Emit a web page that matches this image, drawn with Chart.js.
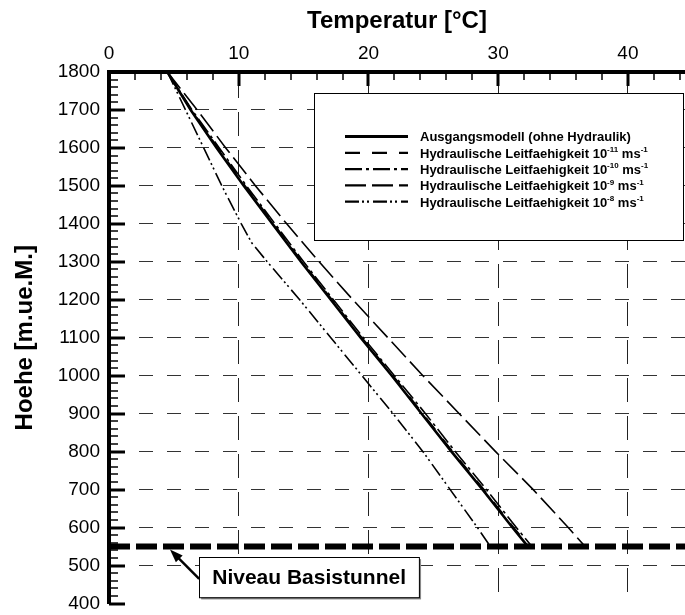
<!DOCTYPE html>
<html>
<head>
<meta charset="utf-8">
<script src="https://cdn.jsdelivr.net/npm/chart.js@4.4.1/dist/chart.umd.min.js"></script>
<style>
	html, body { margin: 0; padding: 0; background: #fff; }
	canvas { display: block; }
</style>
</head>
<body>
<canvas id="chart" width="685" height="615"></canvas>
<script>
( function () {
	'use strict';

	var FONT = "'Liberation Sans', Arial, Helvetica, sans-serif";

	// ── Data ─────────────────────────────────────────────────────────────

	// Hoehe [m.ue.M.] sampled along the profiles
	var HEIGHTS = [ 1800, 1700, 1600, 1500, 1400, 1300, 1200, 1100, 1000, 900, 800, 700, 600, 550 ];
	// Temperatur [°C] for each profile
	var T_BASE = [ 4.5, 6.3, 8.3, 10.4, 12.6, 14.8, 17.1, 19.4, 21.8, 24.1, 26.4, 28.8, 31.1, 32.3 ];
	var T_K11  = [ 4.5, 6.35, 8.4, 10.5, 12.7, 14.9, 17.2, 19.5, 21.9, 24.2, 26.5, 28.9, 31.2, 32.4 ];
	var T_K10  = [ 4.5, 6.4, 8.5, 10.6, 12.8, 15.0, 17.3, 19.6, 22.0, 24.4, 26.7, 29.1, 31.4, 32.6 ];
	var T_K9   = [ 4.5, 6.8, 9.0, 11.3, 13.7, 16.2, 18.8, 21.5, 24.2, 27.0, 29.8, 32.7, 35.4, 36.7 ];
	// the 10^-8 profile bends near 1350 m, so it gets its own heights
	var HEIGHTS_K8 = [ 1800, 1700, 1600, 1500, 1400, 1350, 1300, 1200, 1100, 1000, 900, 800, 700, 600, 550 ];
	var T_K8       = [ 4.5, 5.9, 7.3, 8.7, 10.2, 11.0, 12.2, 14.7, 17.1, 19.5, 21.9, 24.2, 26.3, 28.4, 29.4 ];

	var SERIES_LABELS = [
		'Ausgangsmodell (ohne Hydraulik)',
		'Hydraulische Leitfaehigkeit 10^{-11} ms^{-1}',
		'Hydraulische Leitfaehigkeit 10^{-10} ms^{-1}',
		'Hydraulische Leitfaehigkeit 10^{-9} ms^{-1}',
		'Hydraulische Leitfaehigkeit 10^{-8} ms^{-1}',
	];

	var TUNNEL_LEVEL = 550;
	var TUNNEL_LABEL = 'Niveau Basistunnel';

	var X_TICKS = [ 0, 10, 20, 30, 40 ];
	var X_MIN = 0, X_MAX = 44.4;
	var Y_MIN = 400, Y_MAX = 1800, Y_STEP = 100;

	// ── Styles ───────────────────────────────────────────────────────────

	var STYLES = [
		{ width: 2.6, dash: [] },
		{ width: 1.6, dash: [ 15, 12 ] },
		{ width: 1.6, dash: [ 17, 4, 3, 4 ] },
		{ width: 1.6, dash: [ 21, 6 ] },
		{ width: 1.6, dash: [ 14, 3, 2, 3, 2, 4 ] },
	];

	function points( temps, heights ) {
		return temps.map( function ( t, i ) { return { x: t, y: heights[ i ] }; } );
	}

	function plain( label ) {
		return label.replace( /\^\{([^}]*)\}/g, '$1' );
	}

	var SERIES = [
		points( T_BASE, HEIGHTS ),
		points( T_K11, HEIGHTS ),
		points( T_K10, HEIGHTS ),
		points( T_K9, HEIGHTS ),
		points( T_K8, HEIGHTS_K8 ),
	];

	var datasets = SERIES.map( function ( data, i ) {
		return {
			label: plain( SERIES_LABELS[ i ] ),
			data: data,
			borderColor: '#000',
			borderWidth: STYLES[ i ].width,
			borderDash: STYLES[ i ].dash,
			pointRadius: 0,
			tension: 0,
			fill: false,
		};
	} );

	// thick dashed tunnel level across the whole plot
	datasets.push( {
		label: TUNNEL_LABEL,
		data: [ { x: X_MIN, y: TUNNEL_LEVEL }, { x: X_MAX, y: TUNNEL_LEVEL } ],
		borderColor: '#000',
		borderWidth: 6,
		borderDash: [ 21, 6 ],
		borderCapStyle: 'butt',
		pointRadius: 0,
		fill: false,
	} );

	// ── Helpers ──────────────────────────────────────────────────────────

	// draws text where ^{..} marks a superscript
	function drawRich( ctx, x, y, str, size ) {
		str.split( /(\^\{[^}]*\})/ ).forEach( function ( p ) {
			if ( ! p ) {
				return;
			}
			var sup = p.indexOf( '^{' ) === 0;
			var txt = sup ? p.slice( 2, -1 ) : p;
			ctx.font = 'bold ' + ( sup ? Math.round( size * 0.62 ) : size ) + 'px ' + FONT;
			ctx.fillText( txt, x, sup ? y - size * 0.42 : y );
			x += ctx.measureText( txt ).width;
		} );
	}

	function line( ctx, x1, y1, x2, y2 ) {
		ctx.beginPath();
		ctx.moveTo( x1, y1 );
		ctx.lineTo( x2, y2 );
		ctx.stroke();
	}

	// ── Plugin: inward ticks, legend box, tunnel note ───────────────────

	var framePlugin = {
		id: 'frame',
		afterDatasetsDraw: function ( chart ) {
			var ctx = chart.ctx;
			var xs = chart.scales.x;
			var ys = chart.scales.y;
			var area = chart.chartArea;
			var v, p, major;

			ctx.save();
			ctx.strokeStyle = '#000';

			// ticks on the left axis, every 20 m
			for ( v = Y_MIN; v <= Y_MAX; v += 20 ) {
				p = Math.round( ys.getPixelForValue( v ) );
				major = v % Y_STEP === 0;
				ctx.lineWidth = major ? 3 : 1.5;
				line( ctx, area.left, p, area.left + ( major ? 16 : 9 ), p );
			}
			// ticks on the top axis, every 2 °C
			for ( v = X_MIN; v <= X_MAX; v += 2 ) {
				p = Math.round( xs.getPixelForValue( v ) );
				major = v % 10 === 0;
				ctx.lineWidth = major ? 3 : 1.5;
				line( ctx, p, area.top, p, area.top + ( major ? 14 : 8 ) );
			}

			// legend box
			var bx = 314, by = 93, bw = 369, bh = 147;
			ctx.fillStyle = '#fff';
			ctx.fillRect( bx, by, bw, bh );
			ctx.lineWidth = 1;
			ctx.strokeRect( bx + 0.5, by + 0.5, bw, bh );

			ctx.textAlign = 'left';
			ctx.textBaseline = 'alphabetic';
			ctx.fillStyle = '#000';
			SERIES_LABELS.forEach( function ( label, i ) {
				var ry = 136.5 + i * 16.3;
				ctx.lineWidth = i === 0 ? 3 : 2.2;
				ctx.setLineDash( STYLES[ i ].dash );
				line( ctx, 345, ry, 408, ry );
				ctx.setLineDash( [] );
				drawRich( ctx, 420, ry + 4.8, label, 13 );
			} );

			// "Niveau Basistunnel" box with arrow to the tunnel line
			var tx1 = xs.getPixelForValue( 6.95 ), tx2 = xs.getPixelForValue( 23.9 );
			var ty1 = ys.getPixelForValue( 522 ), ty2 = ys.getPixelForValue( 416 );
			ctx.fillStyle = '#888';
			ctx.fillRect( tx1 + 2, ty1 + 2, tx2 - tx1, ty2 - ty1 );
			ctx.fillStyle = '#fff';
			ctx.fillRect( tx1, ty1, tx2 - tx1, ty2 - ty1 );
			ctx.lineWidth = 1;
			ctx.strokeRect( Math.round( tx1 ) + 0.5, Math.round( ty1 ) + 0.5, tx2 - tx1, ty2 - ty1 );
			ctx.fillStyle = '#000';
			ctx.font = 'bold 21px ' + FONT;
			ctx.textAlign = 'center';
			ctx.textBaseline = 'middle';
			ctx.fillText( TUNNEL_LABEL, ( tx1 + tx2 ) / 2, ( ty1 + ty2 ) / 2 + 1 );

			var ax = tx1, ay = ys.getPixelForValue( 465 );
			var hx = xs.getPixelForValue( 4.7 ), hy = ys.getPixelForValue( TUNNEL_LEVEL ) + 3;
			var ang = Math.atan2( hy - ay, hx - ax );
			ctx.lineWidth = 2.5;
			line( ctx, ax, ay, hx - 10 * Math.cos( ang ), hy - 10 * Math.sin( ang ) );
			ctx.beginPath();
			ctx.moveTo( hx, hy );
			ctx.lineTo( hx - 14 * Math.cos( ang - 0.35 ), hy - 14 * Math.sin( ang - 0.35 ) );
			ctx.lineTo( hx - 14 * Math.cos( ang + 0.35 ), hy - 14 * Math.sin( ang + 0.35 ) );
			ctx.closePath();
			ctx.fill();

			ctx.restore();
		},
	};

	// ── Chart ────────────────────────────────────────────────────────────

	Chart.defaults.font.family = FONT;
	Chart.defaults.color = '#000';

	new Chart( document.getElementById( 'chart' ).getContext( '2d' ), {
		type: 'line',
		data: { datasets: datasets },
		options: {
			responsive: false,
			animation: false,
			layout: { padding: { left: 0, right: 0, top: 0, bottom: 0 } },
			plugins: {
				legend: { display: false },
				tooltip: { enabled: false },
			},
			scales: {
				x: {
					type: 'linear',
					position: 'top',
					min: X_MIN,
					max: X_MAX,
					afterBuildTicks: function ( s ) {
						s.ticks = X_TICKS.map( function ( v ) { return { value: v }; } );
					},
					afterFit: function ( s ) {
						s.height = 72;
						s.paddingLeft = 0;
						s.paddingRight = 0;
					},
					ticks: {
						padding: 7,
						maxRotation: 0,
						color: '#000',
						font: { size: 19 },
						callback: function ( v ) { return String( v ); },
					},
					grid: {
						drawTicks: false,
						lineWidth: 1,
						color: function ( c ) { return c.tick && c.tick.value === X_MIN ? 'rgba(0,0,0,0)' : '#222'; },
					},
					border: { display: true, color: '#000', width: 4, dash: [ 24, 14 ] },
					title: {
						display: true,
						text: 'Temperatur [°C]',
						color: '#000',
						font: { size: 24, weight: 'bold' },
						padding: { top: 7, bottom: 0 },
					},
				},
				y: {
					type: 'linear',
					min: Y_MIN,
					max: Y_MAX,
					afterFit: function ( s ) {
						s.width = 109;
						// keep only room for half of the bottom label
						s.paddingTop = 0;
						s.paddingBottom = 11.5;
					},
					ticks: {
						stepSize: Y_STEP,
						padding: 9,
						color: '#000',
						font: { size: 19 },
						callback: function ( v ) { return String( v ); },
					},
					grid: {
						drawTicks: false,
						lineWidth: 1,
						color: function ( c ) {
							var v = c.tick && c.tick.value;
							return v === Y_MIN || v === Y_MAX ? 'rgba(0,0,0,0)' : '#333';
						},
					},
					border: { display: true, color: '#000', width: 4, dash: [ 14, 14 ] },
					title: {
						display: true,
						text: 'Hoehe [m.ue.M.]',
						color: '#000',
						font: { size: 24, weight: 'bold' },
						padding: { top: 11, bottom: 0 },
					},
				},
			},
		},
		plugins: [ framePlugin ],
	} );
} )();
</script>
</body>
</html>
